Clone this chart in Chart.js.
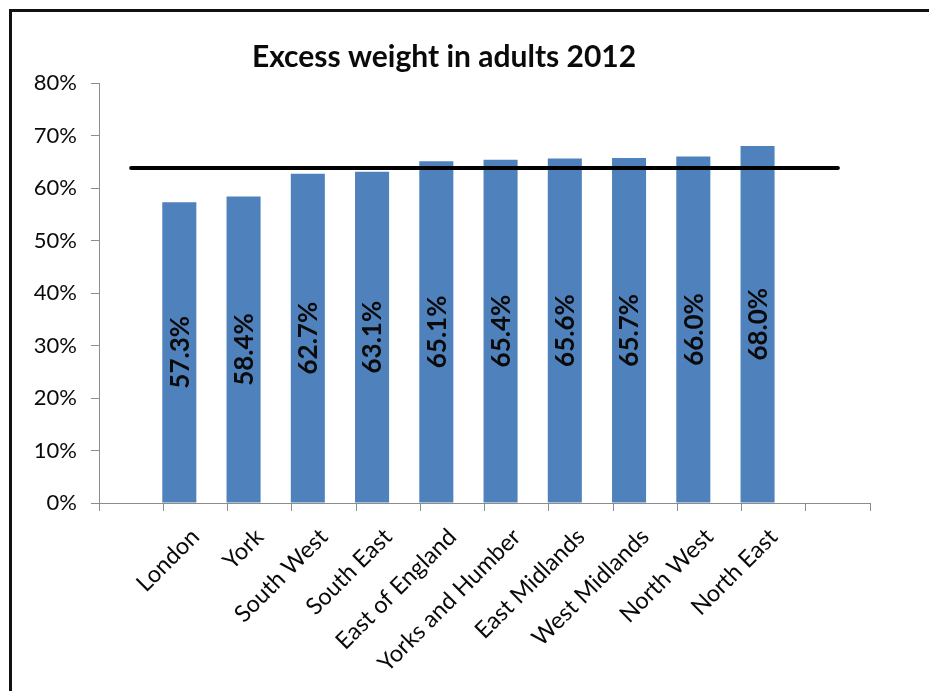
<!DOCTYPE html>
<html>
<head>
<meta charset="utf-8">
<script src="https://cdn.jsdelivr.net/npm/chart.js@4"></script>
<style>
  html, body { margin: 0; background: #fff; overflow: hidden; width: 929px; height: 691px; }
  #frame {
    position: absolute; left: 9px; top: 9px; width: 940px; height: 700px;
    border-top: 3px solid #111; border-left: 3px solid #111;
    border-right: 0; border-bottom: 0;
  }
  #wrap { position: absolute; left: 0; top: 0; width: 929px; height: 691px; }
</style>
</head>
<body>
<div id="frame"></div>
<div id="wrap"><canvas id="chart" width="929" height="691"></canvas></div>
<script>
// blank slot at each end of the category axis
const regions = ['', 'London', 'York', 'South West', 'South East', 'East of England',
  'Yorks and Humber', 'East Midlands', 'West Midlands', 'North West', 'North East', ''];
const excessWeight = [null, 57.3, 58.4, 62.7, 63.1, 65.1, 65.4, 65.6, 65.7, 66.0, 68.0, null];
const spacer = [null, null, null, null, null, null, null, null, null, null, null, null];
const englandAverage = [63.8, 63.8, 63.8, 63.8, 63.8, 63.8, 63.8, 63.8, 63.8, 63.8, 63.8, 63.8];
const yTicks = [0, 10, 20, 30, 40, 50, 60, 70, 80];

const axisGrey = '#8c8c8c';
const textColor = '#0a0a0a';

// percentage written sideways in the middle of each bar
const barValueLabels = {
  id: 'barValueLabels',
  afterDatasetsDraw(chart) {
    const ctx = chart.ctx;
    const meta = chart.getDatasetMeta(0);
    ctx.save();
    ctx.font = 'bold 26px Lato';
    ctx.fillStyle = textColor;
    ctx.textAlign = 'center';
    ctx.textBaseline = 'middle';
    meta.data.forEach((bar, i) => {
      const v = excessWeight[i];
      if (v == null) return;
      ctx.save();
      ctx.translate(bar.x + 1, (bar.y + bar.base) / 2);
      ctx.rotate(-Math.PI / 2);
      ctx.fillText(v.toFixed(1) + '%', 0, 0);
      ctx.restore();
    });
    ctx.restore();
  }
};

new Chart(document.getElementById('chart'), {
  type: 'bar',
  data: {
    labels: regions,
    datasets: [
      {
        data: excessWeight,
        backgroundColor: '#4f81bd',
        categoryPercentage: 1,
        barPercentage: 1.06,
        order: 1
      },
      {
        data: spacer,
        backgroundColor: '#4f81bd',
        categoryPercentage: 1,
        barPercentage: 1.06,
        order: 1
      },
      {
        type: 'line',
        data: englandAverage,
        borderColor: '#000',
        borderWidth: 4,
        borderCapStyle: 'round',
        pointRadius: 0,
        fill: false,
        order: 0
      }
    ]
  },
  options: {
    responsive: false,
    animation: false,
    layout: { padding: { left: 18, right: 59, top: 20, bottom: 0 } },
    plugins: {
      legend: { display: false },
      tooltip: { enabled: false },
      title: {
        display: true,
        text: 'Excess weight in adults 2012',
        color: textColor,
        font: { family: 'Lato', size: 30, weight: 'bold' },
        padding: { top: 19, bottom: 8 }
      }
    },
    scales: {
      x: {
        grid: { display: true, offset: true, drawOnChartArea: false, tickLength: 8, color: axisGrey },
        border: { color: axisGrey },
        ticks: {
          autoSkip: false,
          minRotation: 45,
          maxRotation: 45,
          padding: 12,
          color: textColor,
          font: { family: 'Lato', size: 23.5 }
        },
        afterFit(scale) { scale.height = 188; }
      },
      y: {
        min: 0,
        max: 80,
        afterBuildTicks(scale) { scale.ticks = yTicks.map(v => ({ value: v })); },
        grid: { display: true, drawOnChartArea: false, tickLength: 8, color: axisGrey },
        border: { color: axisGrey },
        ticks: {
          padding: 14,
          color: textColor,
          font: { family: 'Lato', size: 22 },
          callback: v => v + '%'
        },
        afterFit(scale) { scale.width = 81; }
      }
    }
  },
  plugins: [barValueLabels]
});
</script>
</body>
</html>
